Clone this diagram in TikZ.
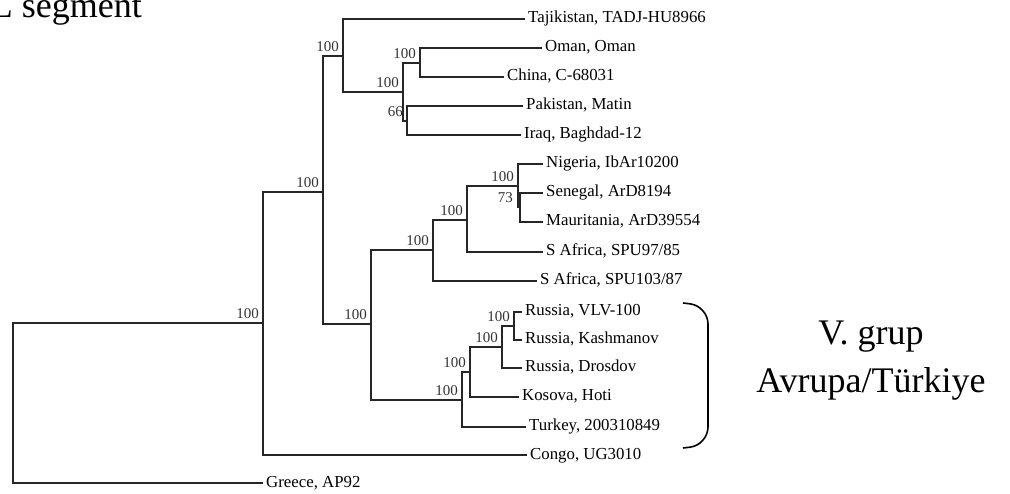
\documentclass[tikz,border=0pt]{standalone}
\usepackage{fontspec}
\setmainfont{Liberation Serif}
\tikzset{
  leaf/.style={anchor=west,inner xsep=3pt,inner ysep=0pt,text height=11pt,text depth=3pt,font=\fontsize{16.8}{18}\selectfont},
  boot/.style={anchor=south east,inner sep=0pt,xshift=-4pt,yshift=4pt,text=black!80,font=\fontsize{15}{16}\selectfont},
  branch/.style={line width=1.1pt,black!85},
  big/.style={inner sep=0pt,font=\fontsize{36}{40}\selectfont}
}
\begin{document}
\begin{tikzpicture}[x=1pt,y=-1pt]
\clip (0,0) rectangle (1010,494);
\node[big,anchor=base east] (title) at (142,18) {L segment};
\coordinate (n0) at (13,403);
\coordinate (nA) at (263,323);
\coordinate (nB) at (323,192);
\coordinate (nD) at (343,56);
\coordinate (nE) at (403,92);
\coordinate (nF) at (420,63);
\coordinate (nG) at (407,121);
\coordinate (nC) at (371,324);
\coordinate (nH) at (433,250);
\coordinate (nI) at (467,220);
\coordinate (nJ) at (518,186);
\coordinate (nK) at (520,207);
\coordinate (nL) at (462,400);
\coordinate (nM) at (470,372);
\coordinate (nN) at (502,347);
\coordinate (nO) at (514,326);
\node[leaf] (tajik) at (525,19) {Tajikistan, TADJ-HU8966};
\node[leaf] (oman) at (542,48) {Oman, Oman};
\node[leaf] (china) at (504,77) {China, C-68031};
\node[leaf] (pakis) at (523,106) {Pakistan, Matin};
\node[leaf] (iraq) at (521,135) {Iraq, Baghdad-12};
\node[leaf] (niger) at (543,164) {Nigeria, IbAr10200};
\node[leaf] (seneg) at (543,193) {Senegal, ArD8194};
\node[leaf] (mauri) at (543,222) {Mauritania, ArD39554};
\node[leaf] (safrA) at (543,252) {S Africa, SPU97/85};
\node[leaf] (safrB) at (537,281) {S Africa, SPU103/87};
\node[leaf] (rusV) at (522,312) {Russia, VLV-100};
\node[leaf] (rusK) at (522,340) {Russia, Kashmanov};
\node[leaf] (rusD) at (522,368) {Russia, Drosdov};
\node[leaf] (kosova) at (519,397) {Kosova, Hoti};
\node[leaf] (turkey) at (526,427) {Turkey, 200310849};
\node[leaf] (congo) at (527,455) {Congo, UG3010};
\node[leaf] (greece) at (263,483) {Greece, AP92};
\draw[branch] (n0) |- (nA) (n0) |- (greece.west);
\draw[branch] (nA) |- (nB) (nA) |- (congo.west);
\draw[branch] (nB) |- (nD) (nB) |- (nC);
\draw[branch] (nD) |- (tajik.west) (nD) |- (nE);
\draw[branch] (nE) |- (nF) (nE) |- (nG);
\draw[branch] (nF) |- (oman.west) (nF) |- (china.west);
\draw[branch] (nG) |- (pakis.west) (nG) |- (iraq.west);
\draw[branch] (nC) |- (nH) (nC) |- (nL);
\draw[branch] (nH) |- (nI) (nH) |- (safrB.west);
\draw[branch] (nI) |- (nJ) (nI) |- (safrA.west);
\draw[branch] (nJ) |- (niger.west) (nJ) |- (nK);
\draw[branch] (nK) |- (seneg.west) (nK) |- (mauri.west);
\draw[branch] (nL) |- (nM) (nL) |- (turkey.west);
\draw[branch] (nM) |- (nN) (nM) |- (kosova.west);
\draw[branch] (nN) |- (nO) (nN) |- (rusD.west);
\draw[branch] (nO) |- (rusV.west) (nO) |- (rusK.west);
\node[boot] (bA) at (nA) {100};
\node[boot] (bB) at (nB) {100};
\node[boot] (bD) at (nD) {100};
\node[boot] (bE) at (nE) {100};
\node[boot] (bF) at (nF) {100};
\node[boot] (bG) at (nG) {66};
\node[boot] (bC) at (nC) {100};
\node[boot] (bH) at (nH) {100};
\node[boot] (bI) at (nI) {100};
\node[boot] (bJ) at (nJ) {100};
\node[boot,xshift=-3pt] (bK) at (nK) {73};
\node[boot] (bL) at (nL) {100};
\node[boot] (bM) at (nM) {100};
\node[boot] (bN) at (nN) {100};
\node[boot] (bO) at (nO) {100};
\draw[line width=1.6pt,rounded corners=18pt] (683,303) -- (708,306) -- (708,445) -- (683,448);
\node[big,anchor=base] (grpA) at (871,345) {V. grup};
\node[big,anchor=base] (grpB) at (871,392) {Avrupa/Türkiye};
\end{tikzpicture}
\end{document}
